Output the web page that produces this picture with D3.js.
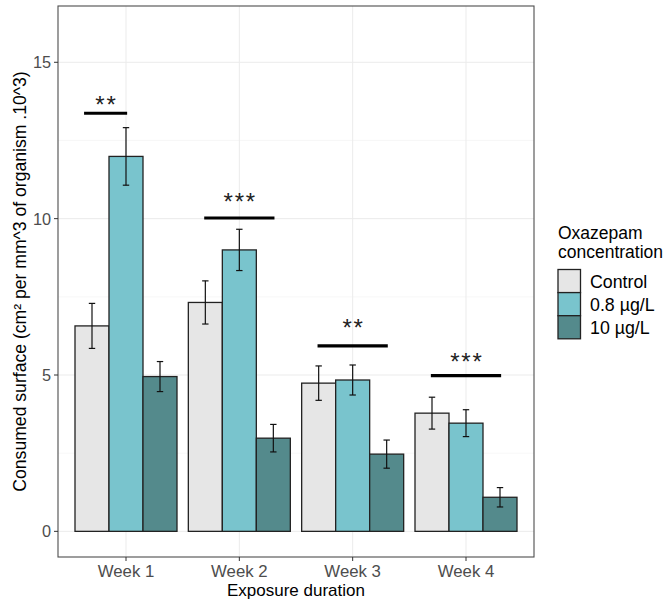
<!DOCTYPE html>
<html><head><meta charset="utf-8">
<script src="https://cdn.jsdelivr.net/npm/d3@7"></script>
<style>body{margin:0;background:#fff;}svg{display:block;font-family:"Liberation Sans",Arial,sans-serif;}</style>
</head><body>
<script>
const weeks = ["Week 1","Week 2","Week 3","Week 4"];
const groups = ["Control","0.8 µg/L","10 µg/L"];
const colors = ["#e6e6e6","#79c4cd","#548a8c"];
const meanControl = [6.57, 7.32, 4.74, 3.78];
const mean08 = [11.99, 9.00, 4.84, 3.46];
const mean10 = [4.95, 2.98, 2.47, 1.09];
const seControl = [0.72, 0.69, 0.55, 0.51];
const se08 = [0.92, 0.66, 0.48, 0.43];
const se10 = [0.48, 0.44, 0.45, 0.31];
const sigLabels = ["**","***","**","***"];
const sigY = [13.37, 10.02, 5.93, 4.98];
const sigTextY = [13.83, 10.73, 6.70, 5.61];
const sigFrom = [-0.37, -0.31, -0.31, -0.31];
const sigTo = [0.01, 0.31, 0.31, 0.31];
const yTicks = [0,5,10,15];

const W=667,H=601;
const m={l:58,r:133,t:6,b:44};
const svg=d3.select("body").append("svg").attr("width",W).attr("height",H);
// ggplot: discrete expansion 0.6 each side
const xs=d3.scaleLinear().domain([0.4,4.6]).range([m.l,W-m.r]);
const y=d3.scaleLinear().domain([-0.82,16.8]).range([H-m.b,m.t]);
const means=[meanControl,mean08,mean10], ses=[seControl,se08,se10];

// grid
const g=svg.append("g");
const minor=[2.5,7.5,12.5];
g.selectAll(".gm").data(minor).enter().append("line").attr("x1",m.l).attr("x2",W-m.r)
 .attr("y1",d=>y(d)).attr("y2",d=>y(d)).attr("stroke","#f2f2f2").attr("stroke-width",0.6);
g.selectAll(".gy").data(yTicks).enter().append("line").attr("x1",m.l).attr("x2",W-m.r)
 .attr("y1",d=>y(d)).attr("y2",d=>y(d)).attr("stroke","#ebebeb").attr("stroke-width",1);
g.selectAll(".gx").data(weeks).enter().append("line").attr("y1",m.t).attr("y2",H-m.b)
 .attr("x1",(d,i)=>xs(i+1)).attr("x2",(d,i)=>xs(i+1)).attr("stroke","#ebebeb").attr("stroke-width",1);

// bars
const bw=0.3;
groups.forEach((gname,k)=>{
  weeks.forEach((w,i)=>{
    const cx=i+1+(k-1)*bw;
    svg.append("rect").attr("x",xs(cx-bw/2)).attr("width",xs(cx+bw/2)-xs(cx-bw/2))
      .attr("y",y(means[k][i])).attr("height",y(0)-y(means[k][i]))
      .attr("fill",colors[k]).attr("stroke","#222").attr("stroke-width",1.3);
  });
});
// error bars
groups.forEach((gname,k)=>{
  weeks.forEach((w,i)=>{
    const cx=xs(i+1+(k-1)*bw);
    const hi=y(means[k][i]+ses[k][i]), lo=y(means[k][i]-ses[k][i]);
    const hw=3.2;
    const e=svg.append("g").attr("stroke","#111").attr("stroke-width",1.2);
    e.append("line").attr("x1",cx).attr("x2",cx).attr("y1",hi).attr("y2",lo);
    e.append("line").attr("x1",cx-hw).attr("x2",cx+hw).attr("y1",hi).attr("y2",hi);
    e.append("line").attr("x1",cx-hw).attr("x2",cx+hw).attr("y1",lo).attr("y2",lo);
  });
});
// significance
weeks.forEach((w,i)=>{
  svg.append("line").attr("x1",xs(i+1+sigFrom[i])).attr("x2",xs(i+1+sigTo[i]))
    .attr("y1",y(sigY[i])).attr("y2",y(sigY[i])).attr("stroke","#000").attr("stroke-width",3.2);
  const cx=xs(i+1+(sigFrom[i]+sigTo[i])/2);
  const n=sigLabels[i].length, sp=11.2;
  for(let j=0;j<n;j++){
    svg.append("text").attr("x",cx+(j-(n-1)/2)*sp).attr("y",y(sigTextY[i])+13.7)
      .attr("text-anchor","middle").attr("font-size",24).attr("fill","#222").text("*");
  }
});
// panel border
svg.append("rect").attr("x",m.l).attr("y",m.t).attr("width",W-m.r-m.l).attr("height",H-m.b-m.t)
  .attr("fill","none").attr("stroke","#4d4d4d").attr("stroke-width",1.1);
// y axis
yTicks.forEach(t=>{
  svg.append("line").attr("x1",m.l-4).attr("x2",m.l).attr("y1",y(t)).attr("y2",y(t)).attr("stroke","#333");
  svg.append("text").attr("x",m.l-7).attr("y",y(t)).attr("dy","0.36em").attr("text-anchor","end")
    .attr("font-size",16.3).attr("fill","#4d4d4d").text(t);
});
// x axis
weeks.forEach((w,i)=>{
  svg.append("line").attr("x1",xs(i+1)).attr("x2",xs(i+1)).attr("y1",H-m.b).attr("y2",H-m.b+4).attr("stroke","#333");
  svg.append("text").attr("x",xs(i+1)).attr("y",H-m.b+20).attr("text-anchor","middle")
    .attr("font-size",16.8).attr("fill","#4d4d4d").text(w);
});
svg.append("text").attr("x",(m.l+W-m.r)/2).attr("y",H-5).attr("text-anchor","middle")
  .attr("font-size",17).attr("fill","#000").text("Exposure duration");
svg.append("text").attr("transform",`translate(26,${(m.t+H-m.b)/2}) rotate(-90)`).attr("text-anchor","middle")
  .attr("font-size",17.6).attr("fill","#000").text("Consumed surface (cm² per mm^3 of organism .10^3)");
// legend
const lx=558;
svg.append("text").attr("x",lx).attr("y",238.5).attr("font-size",17.5).text("Oxazepam");
svg.append("text").attr("x",lx).attr("y",257.5).attr("font-size",17.5).text("concentration");
groups.forEach((gname,k)=>{
  const ky=269.5+k*23.1;
  svg.append("rect").attr("x",lx).attr("y",ky).attr("width",22.5).attr("height",23.1)
    .attr("fill",colors[k]).attr("stroke","#222").attr("stroke-width",1.3);
  svg.append("text").attr("x",lx+32).attr("y",ky+11.6).attr("dy","0.36em").attr("font-size",17.8).text(gname);
});
</script>
</body></html>
